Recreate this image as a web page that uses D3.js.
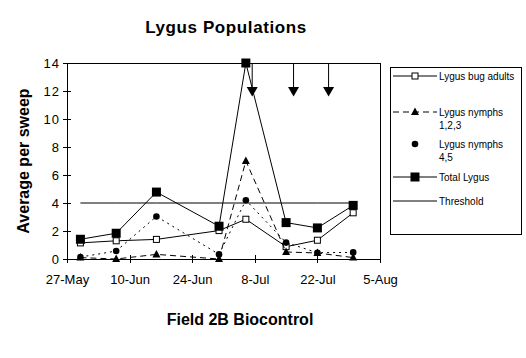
<!DOCTYPE html>
<html><head><meta charset="utf-8">
<script src="https://cdn.jsdelivr.net/npm/d3@7"></script>
<style>
html,body{margin:0;padding:0;background:#fff;}
svg text{font-family:"Liberation Sans",Arial,sans-serif;fill:#000;}
</style></head>
<body><svg id="c" width="526" height="358"></svg>
<script>
const dates = ["2001-05-30","2001-06-07","2001-06-16","2001-06-30","2001-07-06","2001-07-15","2001-07-22","2001-07-30"];
const adults   = [1.15, 1.3, 1.4, 2.03, 2.84, 0.88, 1.34, 3.3];
const nymphs123 = [0.1, 0, 0.33, 0, 7.0, 0.5, 0.43, 0.1];
const nymphs45 = [0.14, 0.57, 3.04, 0.33, 4.2, 1.17, 0.45, 0.47];
const total    = [1.41, 1.84, 4.78, 2.34, 14.0, 2.6, 2.22, 3.83];
const threshold = [4, 4, 4, 4, 4, 4, 4, 4];
const arrowDates = ["2001-07-07T10:00","2001-07-16T16:00","2001-07-24T12:00"];
const arrowValue = 11.6;
const xTickDates = ["2001-05-27","2001-06-10","2001-06-24","2001-07-08","2001-07-22","2001-08-05"];
const yTicks = [0,2,4,6,8,10,12,14];
const seriesNames = ["Lygus bug adults","Lygus nymphs\n1,2,3","Lygus nymphs\n4,5","Total Lygus","Threshold"];

const parse = s => new Date(s);
const fmt = d3.timeFormat("%-d-%b");

const svg = d3.select("#c");
const L = 67, R = 380, T = 63, B = 259;
const x = d3.scaleTime().domain([parse("2001-05-27"), parse("2001-08-05")]).range([L, R]);
const y = d3.scaleLinear().domain([0, 14]).range([B, T]);

// plot frame
svg.append("rect").attr("x", L).attr("y", T).attr("width", R - L).attr("height", B - T)
  .attr("fill", "none").attr("stroke", "#000").attr("stroke-width", 1)
  .attr("shape-rendering", "crispEdges");

// axes
const yAxis = d3.axisLeft(y).tickValues(yTicks).tickSize(4).tickPadding(3).tickFormat(d3.format("d"));
const gy = svg.append("g").attr("transform", `translate(${L},0)`).call(yAxis);
gy.selectAll(".tick line").attr("x1", 4).attr("x2", -4);
gy.selectAll("text").attr("font-size", 13).attr("letter-spacing", 1);
gy.select(".domain").remove();
gy.attr("shape-rendering", "crispEdges");

const xAxis = d3.axisBottom(x).tickValues(xTickDates.map(parse)).tickSize(4).tickPadding(12).tickFormat(fmt);
const gx = svg.append("g").attr("transform", `translate(0,${B})`).call(xAxis);
gx.selectAll(".tick line").attr("y1", -4).attr("y2", 4);
gx.selectAll("text").attr("font-size", 13);
gx.select(".domain").remove();
gx.attr("shape-rendering", "crispEdges");

const pts = vals => vals.map((v, i) => [x(parse(dates[i])), y(v)]);
const line = d3.line();

const styles = [
  {vals: adults, dash: null, marker: "openSquare"},
  {vals: nymphs123, dash: "6,4", marker: "triangle"},
  {vals: nymphs45, dash: "2,4", marker: "circle"},
  {vals: total, dash: null, marker: "filledSquare"},
  {vals: threshold, dash: null, marker: null}
];

function drawMarker(g, type, cx, cy) {
  if (type === "openSquare") {
    g.append("rect").attr("x", cx - 3).attr("y", cy - 3).attr("width", 6).attr("height", 6)
      .attr("fill", "#fff").attr("stroke", "#000").attr("stroke-width", 1);
  } else if (type === "filledSquare") {
    g.append("rect").attr("x", cx - 4.5).attr("y", cy - 4.5).attr("width", 9).attr("height", 9).attr("fill", "#000");
  } else if (type === "triangle") {
    g.append("path").attr("d", `M${cx},${cy - 4.5}L${cx + 4},${cy + 3}L${cx - 4},${cy + 3}Z`).attr("fill", "#000");
  } else if (type === "circle") {
    g.append("circle").attr("cx", cx).attr("cy", cy).attr("r", 3.3).attr("fill", "#000");
  }
}

styles.forEach(s => {
  const p = pts(s.vals);
  const g = svg.append("g");
  g.append("path").attr("d", line(p)).attr("fill", "none").attr("stroke", "#000")
    .attr("stroke-width", 1).attr("stroke-dasharray", s.dash);
  if (s.marker) p.forEach(q => drawMarker(g, s.marker, q[0], q[1]));
});

// arrows
arrowDates.forEach(d => {
  const ax = x(parse(d)), ty = y(arrowValue);
  svg.append("line").attr("x1", ax).attr("x2", ax).attr("y1", T).attr("y2", ty - 9)
    .attr("stroke", "#000").attr("stroke-width", 1);
  svg.append("path").attr("d", `M${ax - 5.5},${ty - 9.5}L${ax + 5.5},${ty - 9.5}L${ax},${ty}Z`).attr("fill", "#000");
});

// legend
svg.append("rect").attr("x", 390.5).attr("y", 67.5).attr("width", 130.5).attr("height", 167)
  .attr("fill", "#fff").attr("stroke", "#000").attr("shape-rendering", "crispEdges");
const legY = [76, 112, 144, 177, 201];
styles.forEach((s, i) => {
  const g = svg.append("g");
  const ly = legY[i];
  if (s.marker !== "circle") {
    g.append("line").attr("x1", 393).attr("x2", 437).attr("y1", ly).attr("y2", ly)
      .attr("stroke", "#000").attr("stroke-dasharray", s.dash);
  }
  if (s.marker) drawMarker(g, s.marker, 415, ly);
  const lines = seriesNames[i].split("\n");
  const t = g.append("text").attr("x", 439).attr("y", ly + 3.5).attr("font-size", 10);
  lines.forEach((ln, k) => t.append("tspan").attr("x", 439).attr("dy", k === 0 ? 0 : 13).text(ln));
});

// titles
svg.append("text").attr("x", 226).attr("y", 33).attr("text-anchor", "middle")
  .attr("font-size", 17).attr("font-weight", "bold").attr("letter-spacing", 0.6).text("Lygus Populations");
svg.append("text").attr("x", 240).attr("y", 325).attr("text-anchor", "middle")
  .attr("font-size", 16).attr("font-weight", "bold").text("Field 2B Biocontrol");
svg.append("text").attr("transform", "translate(29,161) rotate(-90)").attr("text-anchor", "middle")
  .attr("font-size", 16).attr("font-weight", "bold").text("Average per sweep");
</script></body></html>
